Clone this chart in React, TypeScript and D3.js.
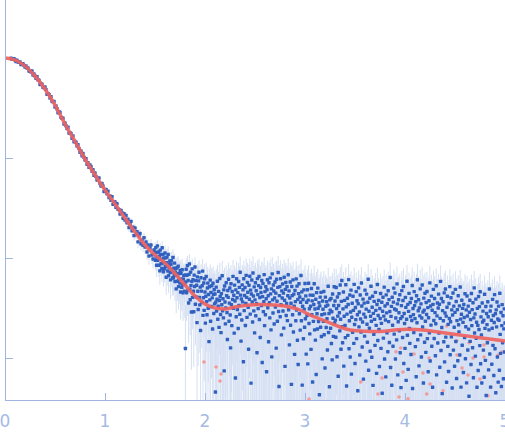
import React from 'react';
import * as d3 from 'd3';

// Fit curve knots: q (nm^-1) and log10 intensity
const fitQ = [0, 0.1, 0.2, 0.3, 0.4, 0.5, 0.6, 0.7, 0.8, 0.9, 1.0, 1.1, 1.2, 1.3, 1.4, 1.5, 1.6, 1.7, 1.8, 1.9, 2.0, 2.1, 2.2, 2.3, 2.4, 2.55, 2.7, 2.85, 2.95, 3.05, 3.15, 3.25, 3.35, 3.45, 3.55, 3.75, 3.9, 4.02, 4.18, 4.35, 4.55, 4.75, 5.0];
const fitLog = [0, -0.02, -0.08, -0.18, -0.31, -0.47, -0.66, -0.835, -1.01, -1.17, -1.32, -1.46, -1.6, -1.74, -1.87, -1.97, -2.05, -2.155, -2.27, -2.38, -2.46, -2.5, -2.51, -2.49, -2.475, -2.465, -2.47, -2.49, -2.52, -2.57, -2.61, -2.65, -2.69, -2.72, -2.73, -2.735, -2.72, -2.713, -2.72, -2.743, -2.77, -2.797, -2.83];

// Experimental points: q grid and deviation from fit (hundredths of a decade)
const lowQStart = 0.06;
const lowQStep = 0.01;
const lowDev = [
  1,0,1,1,0,-1,1,0,0,1,-1,0,1,0,-1,1,0,1,-1,0,0,2,-1,1,0,-1,2,0,1,-2,0,1,-1,0,2,1,-2,0,1,-1,
  2,-1,0,2,-2,1,0,-2,1,2,-1,0,2,-2,1,0,-1,2,-2,0,1,-2,2,-2,0,1,-1,2,0,-2,1,-2,2,0,-1,2,-2,1,-2,2,
  2,-1,2,-2,2,0,-2,1,3,-1,-2,2,1,-3,0,2,-1,3,-2,1,-2,3,-3,1,2,-2,3,-1,0,-3,2,1,-3,3,-2,
  4,-2,3,-4,1,5,-3,2,-5,4,-1,3,-6,2,5,-4,1,-3,6,-2,4,-5,3,-7,2,6,-3,-6,4
];
const highQStart = 1.5;
const highQStep = 0.004;
const highDev = [
  // q 1.50 - 1.80
  3,-5,8,-1,-9,4,11,-3,0,6, -7,2,-12,9,5,-4,1,-8,13,-2, 7,-10,4,0,-6,10,-3,6,-13,2,
  8,-1,-5,12,-9,3,0,7,-4,-11, 5,9,-2,1,-7,14,-6,4,-3,10, -8,2,6,-14,0,8,-5,3,11,-9,
  -1,5,-4,9,-12,7,2,-6,12,-2, -10,4,8,-7,1,
  // q 1.80 - 2.10
  10,-63,4,17,-6,12,22,-2,8,-14, 15,26,1,-9,19,6,-20,11,24,-4, 14,3,-17,20,9,29,-8,16,0,12,
  -25,21,7,-11,18,27,2,-5,13,-30, 23,10,-1,16,31,-13,5,20,-7,25, 12,-19,8,28,3,-10,17,22,-3,11,
  -36,19,6,26,-15,14,0,21,9,-22, 24,13,-6,18,4,
  // q 2.10 - 3.30
  14,-84,6,21,-3,9,27,-11,2,17, -19,8,30,12,-6,-24,15,4,33,-2, 10,-9,19,-62,23,7,-15,1,26,13,
  -4,-31,18,11,29,-13,5,20,-7,-40, 24,3,-18,16,8,31,-1,12,-26,22, 6,-71,17,-10,28,9,-3,14,-22,25,
  1,19,-8,34,11,-35,7,-14,21,4, 16,-56,27,-5,10,18,-20,2,30,8, -12,23,13,-2,-44,20,6,29,-9,15,
  -78,11,25,3,-17,32,9,-6,18,-28, 5,22,-11,14,1,-48,26,10,-4,19, 28,-15,7,-33,17,12,-1,24,-58,8,
  21,-7,3,30,-21,13,-10,18,6,-67, 15,25,-3,9,-37,22,2,-13,27,11, -25,16,-52,31,5,-8,20,14,-19,7,
  23,-2,12,-43,26,4,-16,18,33,-6, -81,10,19,-11,27,1,-29,15,8,22, -5,13,-22,29,6,-60,17,24,-9,3,
  20,-14,11,32,-3,16,-38,9,25,-18, 4,-77,21,12,-7,28,-24,14,2,-46, 18,7,-12,30,-1,23,-31,10,-55,16,
  26,-4,13,-20,8,35,-10,19,-74,5, 12,-27,22,3,-15,29,-6,17,-41,11, -2,24,-50,14,31,-9,6,-19,20,9,
  -34,27,1,15,-66,21,-5,12,33,-13, 8,-23,18,-57,25,4,-11,30,10,-3, 16,-76,13,22,-8,27,-17,5,-39,19,
  11,-1,29,-14,7,-47,24,15,-6,20, 3,-28,17,36,-10,9,-64,23,13,-5, 25,-20,12,-36,30,6,-12,19,38,2,
  // q 3.30 - 5.00
  24,5,-12,38,17,-31,29,10,-50,21, 33,14,-4,42,8,-22,26,47,1,-15, 19,36,-38,12,28,3,-9,44,22,-57,
  15,31,-6,25,50,-19,9,35,-27,18, 40,-44,13,27,-2,34,20,-13,46,6, -33,23,11,39,-8,30,16,-60,27,43,
  4,19,-24,36,12,-1,48,25,-16,9, 32,-48,17,28,-5,41,14,-30,22,37, 7,-11,29,52,-39,20,3,33,-20,15,
  45,10,-26,24,35,-54,18,-3,30,12, -14,39,21,6,-42,27,47,-9,16,31, 2,-35,23,13,38,-17,8,29,-62,20,
  34,-7,15,44,-28,25,11,-46,36,18, -2,27,-21,40,9,31,-12,19,53,-37, 14,24,-55,33,5,-16,28,42,-4,21,
  37,-29,12,20,-10,46,26,-45,8,30, 17,-1,35,-23,11,-58,24,39,13,-8, 29,43,-34,16,6,-19,32,22,-51,10,
  48,-6,25,-40,18,36,1,-14,27,13, -25,31,9,44,-59,21,15,-3,38,24, 11,-17,28,-47,34,7,50,-10,19,30,
  -36,22,14,41,-5,26,-27,12,45,3, 18,-53,32,20,-12,37,9,-22,28,16, 39,-8,23,-41,13,30,-2,48,-30,25,
  6,35,-15,21,-56,27,42,11,-7,33, 19,-24,8,46,-43,16,29,-11,24,38, -1,28,-35,14,51,-18,34,5,-61,22,
  31,12,-9,40,-29,20,44,-4,17,-49, 26,37,-13,9,-38,30,15,47,-21,12, 36,-3,24,-54,19,41,-16,28,7,-32,
  22,45,-7,33,-44,14,25,-26,39,10, 3,29,-20,48,16,-52,21,35,-10,27, 13,-37,31,18,-2,42,-23,9,26,-47,
  40,20,-14,30,7,-60,24,36,-5,17, -28,43,11,27,-11,34,-41,19,49,4, 23,-19,38,-1,15,-50,29,12,-33,41,
  8,31,-8,46,-26,21,3,-45,35,16, 27,-12,18,-39,44,10,-22,32,-57,25, 14,-4,37,22,-31,9,50,-15,28,-48,
  33,19,-25,11,40,-6,24,-36,17,45, -9,26,-53,30,13,38,-17,21,-42,34, 20,-30,47,6,-13,28,-46,15,36,-2,
  25,-38,12,32,-11,18
];

// Relative error (sigma / fitted intensity) along q
const errQ = [0, 0.8, 1.1, 1.3, 1.5, 1.7, 1.9, 2.05, 2.3, 3.0, 3.4, 5.0];
const errRel = [0.01, 0.02, 0.05, 0.1, 0.18, 0.3, 0.5, 0.8, 0.95, 1.0, 1.35, 1.5];

// Negative-intensity points (shown in pink): q and log10 |I|
const pinkQ = [1.99, 2.11, 2.16, 2.15, 3.04, 3.557, 3.73, 3.77, 3.91, 3.94, 3.957, 3.98, 4.03, 4.09, 4.18, 4.217, 4.24, 4.25, 4.38, 4.417, 4.517, 4.52, 4.57, 4.63, 4.64, 4.68, 4.75, 4.79, 4.79, 4.83, 4.857, 4.93, 4.97];
const pinkLog = [-3.04, -3.09, -3.16, -3.23, -3.41, -3.24, -3.36, -3.2, -2.937, -3.39, -2.9, -3.14, -3.407, -2.96, -3.15, -3.36, -3.0, -3.26, -3.327, -2.68, -2.827, -2.97, -3.1, -3.17, -2.847, -3.0, -3.21, -2.87, -2.99, -3.377, -3.29, -2.97, -2.94];

const xTicks = [0, 1, 2, 3, 4, 5];
const yTicks = [1e-1, 1e-2, 1e-3];

const W = 505;
const H = 438;
const AXIS = '#9fb5df';

export default function App() {
  const x = d3.scaleLinear().domain([0, 5]).range([5, 505]);
  const y = d3.scaleLog().domain([1e-3, 1]).range([358, 58]);
  const fitAt = d3.scaleLinear().domain(fitQ).range(fitLog).clamp(true);
  const relAt = d3.scaleLinear().domain(errQ).range(errRel).clamp(true);
  const bottom = 400;

  const pts: { q: number; I: number; s: number }[] = [];
  lowDev.forEach((d, i) => {
    const q = lowQStart + i * lowQStep;
    const f = Math.pow(10, fitAt(q));
    pts.push({ q, I: Math.pow(10, fitAt(q) + d / 100), s: relAt(q) * f });
  });
  highDev.forEach((d, i) => {
    const q = highQStart + i * highQStep;
    const f = Math.pow(10, fitAt(q));
    pts.push({ q, I: Math.pow(10, fitAt(q) + d / 100), s: relAt(q) * f });
  });

  const line = d3
    .line<number>()
    .x((_, i) => x(fitQ[i]))
    .y((d) => y(Math.pow(10, d)))
    .curve(d3.curveMonotoneX);

  return (
    <svg width={W} height={H} style={{ position: 'absolute', left: 0, top: 0, background: '#fff' }}>
      <defs>
        <clipPath id="plot">
          <rect x={5} y={0} width={500} height={400} />
        </clipPath>
      </defs>
      <g clipPath="url(#plot)">
        {pts.map((p, i) => {
          const lo = p.I - p.s;
          const y1 = y(p.I + p.s);
          const y2 = lo > 0 ? Math.min(bottom, y(lo)) : bottom;
          return <line key={'e' + i} x1={x(p.q)} x2={x(p.q)} y1={y1} y2={y2} stroke="#d4dff2" strokeWidth={1} />;
        })}
        {pinkQ.map((q, i) => (
          <circle key={'p' + i} cx={x(q)} cy={y(Math.pow(10, pinkLog[i]))} r={1.8} fill="#f39a9a" />
        ))}
        {pts.map((p, i) => (
          <rect key={'d' + i} x={x(p.q) - 1.7} y={y(p.I) - 1.7} width={3.4} height={3.4} rx={0.6} fill="#3060c0" />
        ))}
        <path d={line(fitLog) || ''} fill="none" stroke="#ee6360" strokeWidth={3.5} strokeOpacity={0.92} />
      </g>
      <line x1={5.5} x2={5.5} y1={0} y2={400} stroke={AXIS} strokeWidth={1} />
      <line x1={5} x2={505} y1={400.5} y2={400.5} stroke={AXIS} strokeWidth={1} />
      {yTicks.map((t) => (
        <line key={'yt' + t} x1={5} x2={13} y1={Math.round(y(t)) + 0.5} y2={Math.round(y(t)) + 0.5} stroke={AXIS} />
      ))}
      {xTicks.slice(1).map((t) => (
        <line key={'xt' + t} x1={Math.round(x(t)) + 0.5} x2={Math.round(x(t)) + 0.5} y1={393} y2={400} stroke={AXIS} />
      ))}
      {xTicks.map((t) => (
        <text key={'xl' + t} x={x(t)} y={426.5} textAnchor="middle" fontFamily="DejaVu Sans" fontSize={17} fill="#a6bbe3">
          {t}
        </text>
      ))}
    </svg>
  );
}
